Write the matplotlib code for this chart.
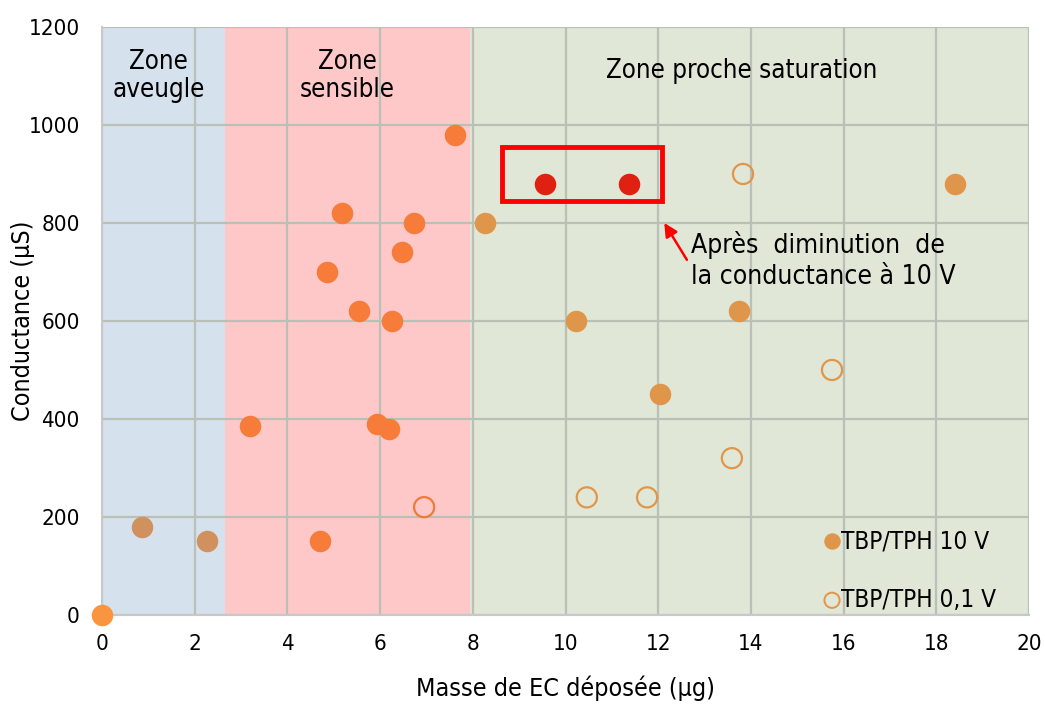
import matplotlib.pyplot as plt

# Masse de EC (µg) / conductance (µS)
aveugle_x = [0.86, 2.27]
aveugle_y = [180, 150]
sensible_x = [3.19, 4.70, 4.85, 5.18, 5.54, 5.93, 6.19, 6.26, 6.47, 6.73, 7.62]
sensible_y = [385, 150, 700, 820, 620, 390, 380, 600, 740, 800, 980]
satur_x = [8.26, 10.23, 12.04, 13.74, 18.40]
satur_y = [800, 600, 450, 620, 880]
origine_x = [0]
origine_y = [0]
diminue_x = [9.56, 11.37]
diminue_y = [880, 880]
faible_x = [6.95, 10.46, 11.76, 13.59, 13.83, 15.75]
faible_y = [220, 240, 240, 320, 900, 500]

zones = [(0, 2.65, '#d6e1ee'), (2.65, 7.95, '#ffc8c8'), (7.95, 20, '#e1e7d7')]

plt.rcParams['font.family'] = 'DejaVu Sans'
plt.rcParams['font.stretch'] = 'condensed'
fig = plt.figure(figsize=(10.45, 7.08), dpi=100)
ax = fig.add_axes([0.0976, 0.1314, 0.8871, 0.8305])

for a, b, c in zones:
    ax.axvspan(a, b, color=c, zorder=0.3, lw=0)

ax.set_axisbelow('line')
ax.grid(True, color='#b9c0b5', lw=1.6)

s = 240
ax.scatter(aveugle_x, aveugle_y, s=s, color='#d0915f', lw=0, zorder=3)
ax.scatter(sensible_x, sensible_y, s=s, color='#f77b39', lw=0, zorder=3)
ax.scatter(satur_x, satur_y, s=s, color='#e0964a', lw=0, zorder=3)
ax.scatter(origine_x, origine_y, s=s, color='#f9953f', lw=0, zorder=3, clip_on=False)
ax.scatter(diminue_x, diminue_y, s=s, color='#e02010', lw=0, zorder=3)
ax.scatter(faible_x[:1], faible_y[:1], s=210, facecolor='none', edgecolor='#f07a38', lw=1.6, zorder=3)
ax.scatter(faible_x[1:], faible_y[1:], s=210, facecolor='none', edgecolor='#e0964a', lw=1.6, zorder=3)

# encadré rouge + flèche
ax.add_patch(plt.Rectangle((8.63, 845), 3.45, 110, fill=False, ec='#ff0000', lw=3.5, zorder=4))
ax.annotate('', xy=(12.1, 805), xytext=(12.65, 720),
            arrowprops=dict(arrowstyle='-|>', color='#ff0000', lw=1.8, mutation_scale=20), zorder=4)
ax.text(12.7, 755, 'Après  diminution  de', fontsize=19, va='center', ha='left', zorder=5)
ax.text(12.7, 690, 'la conductance à 10 V', fontsize=19, va='center', ha='left', zorder=5)

ax.text(1.22, 1100, 'Zone\naveugle', fontsize=18.5, ha='center', va='center', linespacing=1.12)
ax.text(5.3, 1100, 'Zone\nsensible', fontsize=18.5, ha='center', va='center', linespacing=1.12)
ax.text(13.8, 1110, 'Zone proche saturation', fontsize=18.5, ha='center', va='center')

# légende
ax.scatter([15.75], [150], s=140, color='#e0964a', lw=0, zorder=5)
ax.text(15.95, 150, 'TBP/TPH 10 V', fontsize=17.5, va='center', ha='left', zorder=5)
ax.scatter([15.75], [30], s=120, facecolor='none', edgecolor='#e0964a', lw=1.4, zorder=5)
ax.text(15.95, 30, 'TBP/TPH 0,1 V', fontsize=17.5, va='center', ha='left', zorder=5)

ax.set_xlim(0, 20)
ax.set_ylim(0, 1200)
ax.set_xticks(range(0, 21, 2))
ax.set_yticks(range(0, 1201, 200))
ax.tick_params(axis='x', length=0, labelsize=16, pad=14)
ax.tick_params(axis='y', length=0, labelsize=16, pad=16)
for sp in ['top', 'right']:
    ax.spines[sp].set_visible(False)
for sp in ['left', 'bottom']:
    ax.spines[sp].set_color('#c8c8c8')
    ax.spines[sp].set_linewidth(1.5)

ax.set_xlabel('Masse de EC déposée (µg)', fontsize=18, labelpad=15)
ax.set_ylabel('Conductance (µS)', fontsize=18, labelpad=-5)

fig.savefig('out.png', dpi=100)
